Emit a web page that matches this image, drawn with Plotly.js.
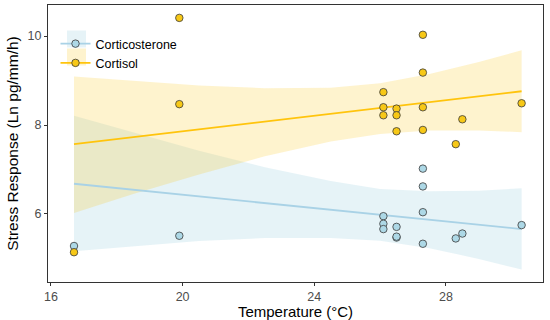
<!DOCTYPE html>
<html>
<head>
<meta charset="utf-8">
<script src="https://cdn.plot.ly/plotly-3.0.1.min.js"></script>
<style>html,body{margin:0;padding:0;background:#fff;}#chart{width:550px;height:320px;}</style>
</head>
<body>
<div id="chart"></div>
<script>
// ---- data ----
const seriesNames = ["Corticosterone", "Cortisol"];

const corticosteroneTemp = [16.7, 19.9, 26.1, 26.1, 26.1, 26.5, 26.5, 26.5, 27.3, 27.3, 27.3, 27.3, 28.3, 28.5, 30.3];
const corticosteroneVal  = [5.28, 5.51, 5.95, 5.78, 5.66, 5.71, 5.47, 5.49, 7.02, 6.62, 6.04, 5.33, 5.45, 5.56, 5.75];

const cortisolTemp = [16.7, 19.9, 19.9, 26.1, 26.1, 26.1, 26.5, 26.5, 26.5, 27.3, 27.3, 27.3, 27.3, 28.3, 28.5, 30.3];
const cortisolVal  = [5.14, 10.41, 8.47, 8.74, 8.40, 8.22, 8.37, 8.22, 7.86, 10.03, 9.18, 8.40, 7.89, 7.57, 8.13, 8.49];

// fitted lines (read at the ends of the fit)
const fitTemp = [16.7, 30.3];
const corticosteroneFit = [6.68, 5.66];
const cortisolFit = [7.57, 8.76];

// 95% confidence bands (read at several temperatures)
const bandTemp = [16.7, 18.5, 20.5, 22.5, 24.5, 26.0, 27.5, 29.0, 30.3];
const corticosteroneHi = [8.21, 7.83, 7.42, 7.05, 6.74, 6.56, 6.51, 6.52, 6.58];
const corticosteroneLo = [5.16, 5.27, 5.39, 5.46, 5.46, 5.40, 5.23, 4.99, 4.75];
const cortisolHi = [9.09, 8.99, 8.89, 8.83, 8.84, 8.94, 9.15, 9.42, 9.68];
const cortisolLo = [6.02, 6.45, 6.89, 7.30, 7.63, 7.80, 7.88, 7.88, 7.84];

const xTicks = [16, 20, 24, 28];
const yTicks = [6, 8, 10];

// ---- styles ----
const blueFill = "rgba(173,216,230,0.30)";
const goldFill = "rgba(250,200,30,0.22)";
const blueLine = "#A9D2E6";
const goldLine = "#FFC40C";
const blueMarker = "#ADD8E6";
const goldMarker = "#F7C817";
const FONT = "Liberation Sans, Arial, sans-serif";

function band(xs, lo, hi, color) {
  return {
    x: xs.concat(xs.slice().reverse()),
    y: hi.concat(lo.slice().reverse()),
    type: "scatter", mode: "lines", fill: "toself",
    fillcolor: color, line: {width: 0, color: "rgba(0,0,0,0)"},
    hoverinfo: "skip", showlegend: false
  };
}

const traces = [
  band(bandTemp, corticosteroneLo, corticosteroneHi, blueFill),
  band(bandTemp, cortisolLo, cortisolHi, goldFill),
  {x: fitTemp, y: corticosteroneFit, type: "scatter", mode: "lines",
   line: {color: blueLine, width: 1.8}, showlegend: false},
  {x: fitTemp, y: cortisolFit, type: "scatter", mode: "lines",
   line: {color: goldLine, width: 1.8}, showlegend: false},
  {x: corticosteroneTemp, y: corticosteroneVal, type: "scatter", mode: "markers",
   marker: {size: 7.5, color: blueMarker, line: {color: "#3a3a3a", width: 0.8}}, showlegend: false},
  {x: cortisolTemp, y: cortisolVal, type: "scatter", mode: "markers",
   marker: {size: 7.5, color: goldMarker, line: {color: "#3a3a3a", width: 0.8}}, showlegend: false},
  // legend keys
  {x: [null], y: [null], type: "scatter", mode: "lines+markers", name: seriesNames[0],
   line: {color: blueLine, width: 1.8},
   marker: {size: 7.5, color: blueMarker, line: {color: "#3a3a3a", width: 0.8}}},
  {x: [null], y: [null], type: "scatter", mode: "lines+markers", name: seriesNames[1],
   line: {color: goldLine, width: 1.8},
   marker: {size: 7.5, color: goldMarker, line: {color: "#3a3a3a", width: 0.8}}}
];

const axisCommon = {
  showline: true, mirror: true, linecolor: "#333", linewidth: 1,
  ticks: "outside", ticklen: 3, tickcolor: "#333", tickwidth: 1,
  showgrid: false, zeroline: false,
  tickfont: {family: FONT, size: 12.5, color: "#4d4d4d"}
};

// legend key background boxes (pixel -> paper helpers)
const W = 550, H = 320, ML = 48, MR = 7, MT = 5, MB = 38;
const px = v => (v - ML) / (W - ML - MR);
const py = v => 1 - (v - MT) / (H - MT - MB);

const layout = {
  width: W, height: H,
  margin: {l: ML, r: MR, t: MT, b: MB},
  paper_bgcolor: "#fff", plot_bgcolor: "#fff",
  font: {family: FONT, color: "#000"},
  xaxis: Object.assign({}, axisCommon, {
    range: [15.91, 30.95], tickvals: xTicks, ticktext: xTicks.map(String),
    title: {text: "Temperature (°C)", font: {size: 15, color: "#000"}, standoff: 3}
  }),
  yaxis: Object.assign({}, axisCommon, {
    range: [4.47, 10.70], tickvals: yTicks, ticktext: yTicks.map(String),
    title: {text: "Stress Response (Ln pg/mm/h)", font: {size: 15.5, color: "#000"}, standoff: 5}
  }),
  showlegend: true,
  legend: {
    x: px(55.5), y: py(29), xanchor: "left", yanchor: "top",
    bgcolor: "rgba(0,0,0,0)", borderwidth: 0,
    font: {size: 12.5, color: "#000"}, tracegroupgap: 0, itemwidth: 30
  },
  shapes: [
    {type: "rect", xref: "paper", yref: "paper", layer: "below",
     x0: px(67), x1: px(86), y0: py(30.5), y1: py(47.5), fillcolor: blueFill, line: {width: 0}},
    {type: "rect", xref: "paper", yref: "paper", layer: "below",
     x0: px(67), x1: px(86), y0: py(48.5), y1: py(65.5), fillcolor: goldFill, line: {width: 0}}
  ]
};

Plotly.newPlot("chart", traces, layout, {staticPlot: true, displayModeBar: false});
</script>
</body>
</html>
